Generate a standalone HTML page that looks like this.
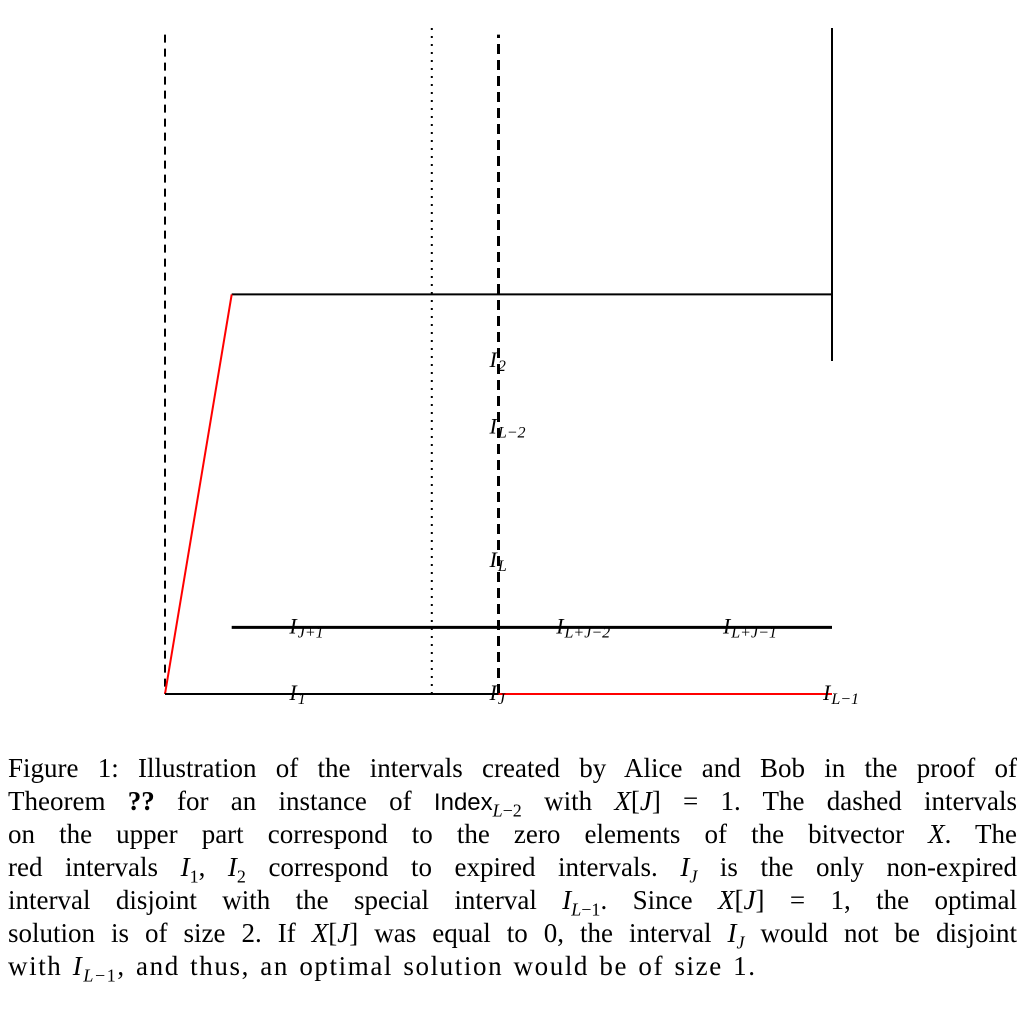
<!DOCTYPE html>
<html><head><meta charset="utf-8">
<style>
body{margin:0;background:#fff;width:1024px;height:1024px;overflow:hidden;position:relative}
svg{position:absolute;left:0;top:0}
.cap{position:absolute;left:8px;top:752px;width:1009px;font-family:"Liberation Serif",serif;font-size:27px;color:#000}
.cap div{height:33px;line-height:33px;text-align:justify;text-align-last:justify;white-space:nowrap}
.cap div.last{text-align-last:left;letter-spacing:1.6px;word-spacing:2px}
i{font-style:italic}
.sf{font-family:"Liberation Sans",sans-serif;font-size:24px}
sub{font-size:18px;line-height:0}
</style></head><body>
<svg id="fig" width="1024" height="740" viewBox="0 0 1024 740"></svg>
<div class="cap">
<div>Figure 1: Illustration of the intervals created by Alice and Bob in the proof of</div>
<div>Theorem <b>??</b> for an instance of <span class="sf">Index</span><sub><i>L</i>−2</sub> with <i>X</i>[<i>J</i>] = 1. The dashed intervals</div>
<div>on the upper part correspond to the zero elements of the bitvector <i>X</i>. The</div>
<div>red intervals <i>I</i><sub>1</sub>, <i>I</i><sub>2</sub> correspond to expired intervals. <i>I<sub>J</sub></i> is the only non-expired</div>
<div>interval disjoint with the special interval <i>I</i><sub><i>L</i>−1</sub>. Since <i>X</i>[<i>J</i>] = 1, the optimal</div>
<div>solution is of size 2. If <i>X</i>[<i>J</i>] was equal to 0, the interval <i>I<sub>J</sub></i> would not be disjoint</div>
<div class="last">with <i>I</i><sub><i>L</i>−1</sub>, and thus, an optimal solution would be of size 1.</div>
</div>
<script>
// segments: x1,y1,x2,y2 in data units (x 0..10, y 0..10)
const segX1=[0,4,5,10,1,0,1,0,5];
const segY1=[9.9,0,0,5,6,0,1,0,0];
const segX2=[0,4,5,10,10,1,10,5,10];
const segY2=[0,10,9.9,10,6,6,1,0,0];
const segStyle=["dash","dot","thickdash","solid","solid","red","thick","solid","red"];
const segNames=["dashed-interval-left","dotted-interval","dashed-interval-j","interval-right-vertical","interval-upper","interval-i2-red","interval-middle","interval-i1","interval-l-1-red"];
const labText=["I|2","I|L−2","I|L","I|J+1","I|L+J−2","I|L+J−1","I|1","I|J","I|L−1"];
const labX=[5,5,5,2,6,8.5,2,5,10];
const labY=[5,4,2,1,1,1,0,0,0];
const sx=v=>165+v*66.7, sy=v=>694-v*66.6;
const svg=document.getElementById('fig'), NS="http://www.w3.org/2000/svg";
segX1.forEach((_,i)=>{
 const l=document.createElementNS(NS,'line');
 
 
 l.setAttribute('x1',sx(segX1[i]));l.setAttribute('y1',sy(segY1[i]));
 l.setAttribute('x2',sx(segX2[i]));l.setAttribute('y2',sy(segY2[i]));
 const s=segStyle[i];
 l.setAttribute('stroke',s=="red"?"#f00":"#000");
 l.setAttribute('stroke-width',s=="thick"||s=="thickdash"?3:2);
 if(s=="dash")l.setAttribute('stroke-dasharray','8 6');
 if(s=="thickdash")l.setAttribute('stroke-dasharray','10 6');
 if(s=="dot")l.setAttribute('stroke-dasharray','2 6');
 svg.appendChild(l);
});
labText.forEach((t,i)=>{
 const [a,b]=t.split('|');
 const tx=document.createElementNS(NS,'text');
 
 
 tx.setAttribute('x',sx(labX[i])-9);tx.setAttribute('y',sy(labY[i])+6);
 tx.setAttribute('font-family','Liberation Serif, serif');tx.setAttribute('font-style','italic');
 tx.setAttribute('font-size','22');
 const s1=document.createElementNS(NS,'tspan');s1.textContent=a;tx.appendChild(s1);
 const s2=document.createElementNS(NS,'tspan');s2.setAttribute('font-size','16');s2.setAttribute('dy','4');s2.setAttribute('dx','1');s2.textContent=b;tx.appendChild(s2);
 svg.appendChild(tx);
});
</script>
</body></html>
